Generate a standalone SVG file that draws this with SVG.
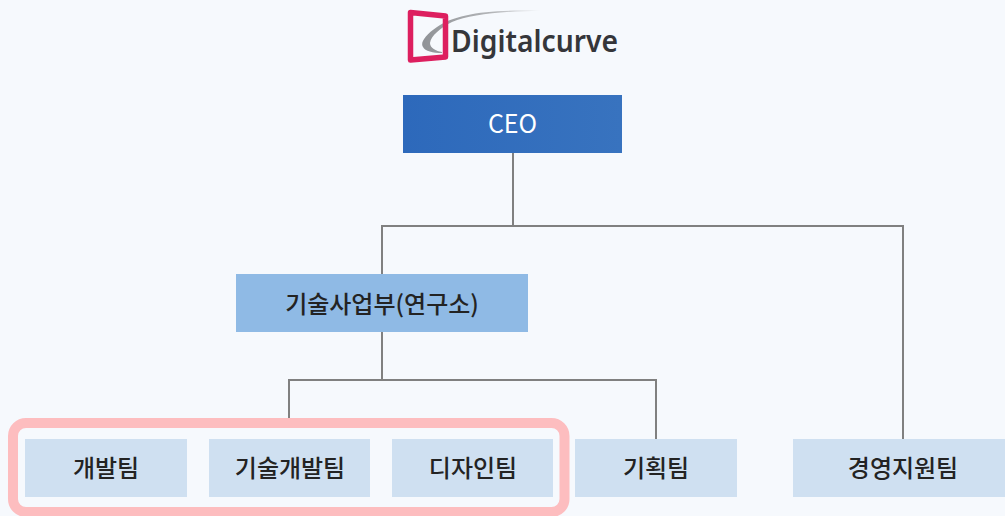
<svg xmlns="http://www.w3.org/2000/svg" width="1005" height="516" viewBox="0 0 1005 516">
<style>
.t{font-family:"Noto Sans CJK KR","Noto Sans",sans-serif;font-weight:500;font-size:24px;fill:#232323;text-anchor:middle}
.l{fill:#cfe0f1}
.c{fill:none;stroke:#808080;stroke-width:2}
</style>
<defs><linearGradient id="sw" gradientUnits="userSpaceOnUse" x1="422" y1="0" x2="541" y2="0"><stop offset="0" stop-color="#8f9296"/><stop offset=".6" stop-color="#b4b6b9"/><stop offset="1" stop-color="#eef0f3"/></linearGradient>
<linearGradient id="ceoFill" x1="0" y1="0" x2="1" y2="0"><stop offset="0" stop-color="#2d69bb"/><stop offset="1" stop-color="#3873bf"/></linearGradient></defs>
<rect width="1005" height="516" fill="#f6f9fd"/>
<g id="logo">
<path d="M541 11C490 9 455 14 437 27C425 35 420 43 423 47C425 51 433 53 442 53V52C436 51 430 48 430 43C431 36 440 28 452 22C470 15 500 11 541 11Z" fill="url(#sw)"/>
<path d="M410.500 12.500L445.500 16V57L410.500 60Z" fill="none" stroke="#dd1f5f" stroke-width="5.500" stroke-linejoin="round"/>
<text x="451" y="52" style="font-family:'Noto Sans','Open Sans',sans-serif;font-weight:600;font-size:30px;fill:#35363a" textLength="167" lengthAdjust="spacingAndGlyphs">Digitalcurve</text>
</g>
<g id="connectors">
<path class="c" d="M513 153V226M382 304V226H903V439"/>
<path class="c" d="M382 332V380M289 422V380H656V439"/>
</g>
<g id="highlight"><rect x="13" y="423" width="551.500" height="89" rx="13" fill="none" stroke="#fdbdbf" stroke-width="10"/></g>
<g id="ceo"><rect x="403" y="95" width="219" height="58" fill="url(#ceoFill)"/><text class="t" x="512.500" y="133" style="fill:#fff;font-weight:400;font-size:25px">CEO</text></g>
<g id="tech-division"><rect x="236" y="274" width="292" height="58" fill="#8fbae5"/><text class="t" x="382" y="313">기술사업부(연구소)</text></g>
<g id="dev-team"><rect class="l" x="25" y="439" width="162" height="58"/><text class="t" x="106" y="477">개발팀</text></g>
<g id="techdev-team"><rect class="l" x="209" y="439" width="161" height="58"/><text class="t" x="290" y="477">기술개발팀</text></g>
<g id="design-team"><rect class="l" x="392" y="439" width="161" height="58"/><text class="t" x="473" y="477">디자인팀</text></g>
<g id="planning-team"><rect class="l" x="575" y="439" width="162" height="58"/><text class="t" x="656" y="477">기획팀</text></g>
<g id="support-team"><rect class="l" x="793" y="439" width="212" height="58"/><text class="t" x="903" y="477">경영지원팀</text></g>
</svg>
